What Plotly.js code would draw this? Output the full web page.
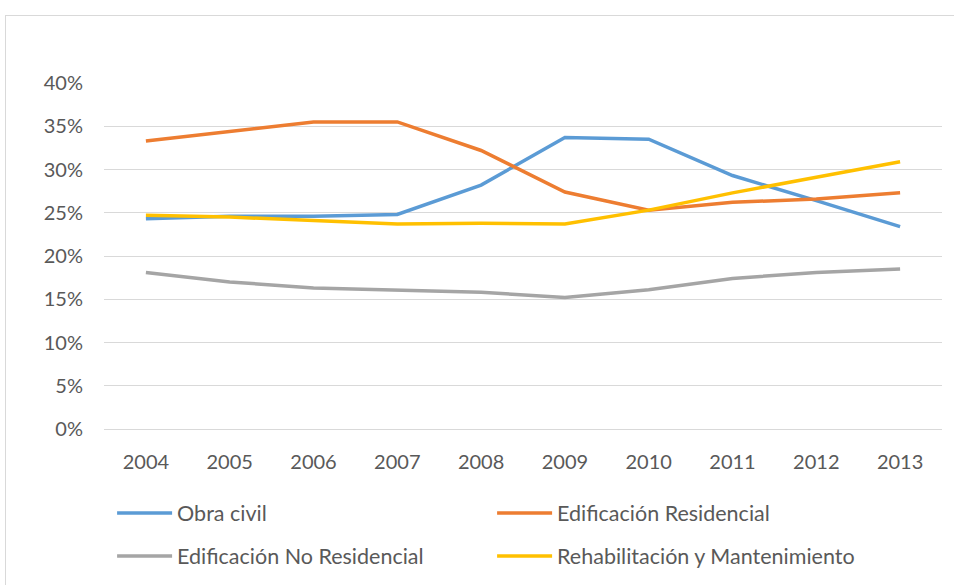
<!DOCTYPE html>
<html>
<head>
<meta charset="utf-8">
<script src="https://cdn.plot.ly/plotly-3.0.1.min.js"></script>
<style>
  html, body { margin: 0; padding: 0; background: #ffffff; }
  #frame { position: absolute; left: 5px; top: 15px; width: 960px; height: 580px;
           border-left: 1px solid #d9d9d9; border-top: 1px solid #d9d9d9; }
  #chart { position: absolute; left: 0; top: 0; width: 954px; height: 585px; }
</style>
</head>
<body>
<div id="frame"></div>
<div id="chart"></div>
<script>
const years = ['2004','2005','2006','2007','2008','2009','2010','2011','2012','2013'];
const obraCivil = [24.3, 24.6, 24.6, 24.8, 28.2, 33.7, 33.5, 29.3, 26.4, 23.4];
const edifResidencial = [33.3, 34.4, 35.5, 35.5, 32.2, 27.4, 25.3, 26.2, 26.6, 27.3];
const edifNoResidencial = [18.1, 17.0, 16.3, 16.1, 15.8, 15.2, 16.1, 17.4, 18.1, 18.5];
const rehabilitacion = [24.7, 24.5, 24.1, 23.7, 23.8, 23.7, 25.3, 27.3, 29.1, 30.9];

const seriesNames = ['Obra civil', 'Edificación Residencial', 'Edificación No Residencial', 'Rehabilitación y Mantenimiento'];
const seriesData = [obraCivil, edifResidencial, edifNoResidencial, rehabilitacion];
const seriesColors = ['#5b9bd5', '#ed7d31', '#a5a5a5', '#ffc000'];
const seriesLegend = ['legend', 'legend', 'legend2', 'legend2'];

const traces = seriesNames.map((name, i) => ({
  type: 'scatter',
  mode: 'lines',
  name: name,
  x: years,
  y: seriesData[i],
  legend: seriesLegend[i],
  line: { color: seriesColors[i], width: 3.5 },
  hoverinfo: 'x+y+name'
}));

const font = 'Lato, "Liberation Sans", sans-serif';
const legendFont = { family: font, size: 21.5, color: '#595959' };

function legendAt(y) {
  return {
    orientation: 'h',
    xref: 'container', yref: 'container',
    x: 0.1175, xanchor: 'left',
    y: y, yanchor: 'middle',
    entrywidth: 310, entrywidthmode: 'pixels',
    itemwidth: 55,
    font: legendFont,
    traceorder: 'normal',
    bgcolor: 'rgba(0,0,0,0)'
  };
}

const layout = {
  width: 954,
  height: 585,
  margin: { l: 104, r: 12, t: 83, b: 156 },
  paper_bgcolor: 'rgba(0,0,0,0)',
  plot_bgcolor: 'rgba(0,0,0,0)',
  font: { family: font, size: 20, color: '#595959' },
  showlegend: true,
  legend: legendAt(1 - 513 / 585),
  legend2: legendAt(1 - 556 / 585),
  xaxis: {
    type: 'category',
    range: [-0.5, 9.5],
    showgrid: false,
    zeroline: false,
    showline: false,
    ticks: 'outside', ticklen: 15, tickcolor: 'rgba(0,0,0,0)',
    tickfont: { family: font, size: 20, color: '#595959' }
  },
  yaxis: {
    range: [0, 40],
    dtick: 5,
    ticksuffix: '%',
    showgrid: true,
    gridcolor: '#d9d9d9',
    gridwidth: 1,
    zeroline: true,
    zerolinecolor: '#d9d9d9',
    zerolinewidth: 1,
    showline: false,
    ticks: 'outside', ticklen: 16, tickcolor: 'rgba(0,0,0,0)',
    tickfont: { family: font, size: 20, color: '#595959' }
  }
};

Plotly.newPlot('chart', traces, layout, { displayModeBar: false, staticPlot: true });
</script>
</body>
</html>
